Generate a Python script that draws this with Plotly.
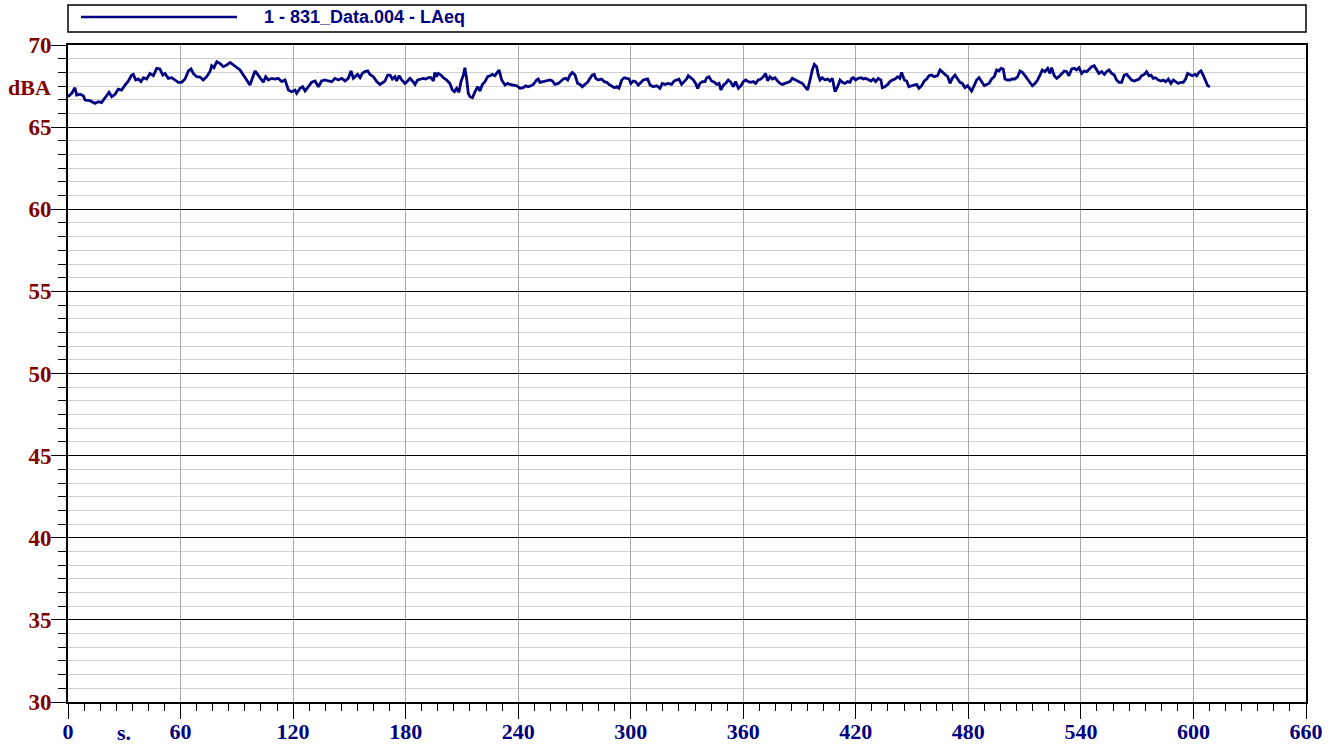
import plotly.graph_objects as go

# time axis (s) and LAeq (dBA)
t = [0, 2.0, 3.7, 4.6, 6.4, 8.2, 9.1, 11.7, 14.4, 16.2, 17.9, 19.7, 21.9, 23.3, 25.1,
     26.8, 28.6, 30.4, 32.2, 33.9, 34.8, 36.1, 37.5, 38.9, 40.2, 41.9, 43.7, 45.5, 47.3,
     49.0, 50.5, 51.7, 53.5, 55.3, 57.0, 58.8, 60.6, 62.4, 64.2, 65.6, 66.8, 68.6, 70.4,
     72.1, 73.9, 75.7, 76.6, 77.8, 79.3, 81.0, 82.8, 84.6, 86.4, 88.1, 89.9, 91.7, 93.5,
     95.2, 97.0, 98.3, 99.7, 101.1, 102.9, 104.1, 105.4, 106.8, 108.6, 110.4, 112.1,
     113.9, 115.7, 117.5, 119.2, 121.0, 121.9, 123.7, 125.1, 126.4, 128.1, 129.9, 131.7,
     133.5, 135.2, 137.0, 138.8, 140.6, 142.3, 144.1, 145.9, 147.7, 149.4, 150.9, 152.1,
     154.4, 155.7, 156.9, 158.3, 159.8, 161.0, 162.8, 164.6, 166.3, 168.1, 169.0, 170.4,
     171.7, 172.9, 174.3, 175.2, 176.5, 177.9, 179.7, 181.1, 182.3, 183.6, 185.0, 186.4,
     187.7, 189.4, 190.7, 192.1, 193.5, 194.8, 195.6, 196.5, 197.4, 198.8, 200.1, 201.9,
     203.6, 204.9, 206.0, 207.2, 208.4, 209.5, 210.8, 211.6, 212.5, 213.4, 214.3, 215.6,
     217.0, 218.4, 219.6, 220.9, 222.3, 223.7, 225.0, 226.2, 227.6, 228.5, 229.8, 231.2,
     233.0, 234.4, 235.6, 237.4, 239.2, 241.0, 242.7, 244.0, 245.4, 246.8, 248.1, 249.8,
     250.7, 251.6, 252.9, 254.3, 255.7, 257.0, 258.2, 259.6, 261.4, 262.8, 264.1, 265.3,
     266.4, 267.6, 268.9, 270.3, 271.7, 273.0, 274.2, 275.6, 277.0, 278.3, 279.5, 280.6,
     281.3, 282.7, 284.5, 285.9, 287.2, 288.4, 289.8, 291.3, 292.5, 293.7, 295.2, 296.6,
     297.8, 299.1, 300.1, 301.4, 302.6, 304.0, 305.5, 306.7, 309.0, 310.3, 312.0, 313.8,
     315.6, 316.8, 318.3, 320.0, 321.8, 323.2, 324.5, 325.7, 327.1, 328.6, 329.8, 330.7,
     332.1, 333.4, 334.6, 335.7, 336.9, 338.2, 339.6, 340.5, 341.7, 343.1, 344.6, 345.8,
     347.1, 348.1, 349.4, 350.6, 352.0, 353.4, 354.7, 355.9, 357.4, 358.8, 360.0, 361.3,
     362.7, 364.1, 365.4, 366.6, 368.0, 369.4, 370.7, 371.9, 373.0, 374.2, 375.5, 376.9,
     378.3, 379.6, 380.8, 382.2, 383.7, 384.9, 386.1, 387.6, 389.0, 390.2, 391.5, 392.9,
     394.3, 395.6, 396.8, 397.9, 399.1, 400.0, 400.9, 402.1, 403.6, 405.0, 406.2, 407.5,
     408.9, 410.3, 411.6, 412.8, 414.2, 415.6, 416.9, 417.8, 418.7, 419.9, 421.3, 422.8,
     424.0, 425.2, 426.7, 428.1, 429.3, 430.6, 432.0, 433.4, 434.1, 435.5, 437.0, 438.2,
     439.5, 440.9, 442.3, 443.5, 444.4, 445.9, 447.1, 448.3, 449.8, 451.2, 452.4, 453.7,
     455.1, 456.5, 457.8, 459.0, 460.4, 461.8, 463.6, 464.9, 466.1, 467.5, 469.0, 470.2,
     471.4, 472.9, 474.3, 475.5, 476.8, 478.2, 479.6, 480.9, 481.7, 483.2, 484.4, 485.7,
     487.1, 488.5, 489.7, 491.0, 492.4, 493.8, 495.1, 496.3, 497.4, 498.6, 499.5, 500.9,
     502.2, 503.4, 504.8, 506.3, 507.5, 508.8, 510.2, 511.6, 512.8, 514.1, 515.5, 516.9,
     518.2, 519.4, 520.8, 522.3, 523.5, 524.4, 525.8, 527.1, 528.3, 529.7, 531.1, 532.4,
     533.6, 535.1, 536.5, 537.7, 539.0, 540.4, 541.8, 543.1, 544.3, 545.7, 547.1, 548.4,
     549.6, 551.1, 552.5, 553.7, 555.0, 556.4, 557.8, 559.0, 560.3, 561.7, 563.1, 564.4,
     565.6, 567.0, 568.5, 569.7, 571.0, 572.4, 573.8, 575.0, 576.3, 577.3, 578.6, 579.8,
     581.3, 582.7, 583.9, 585.2, 586.6, 588.0, 589.3, 590.5, 591.9, 593.3, 594.6, 595.8,
     596.9, 598.1, 599.4, 600.8, 601.7, 602.9, 604.0, 605.3, 606.5, 607.6, 608.8]

laeq = [66.85, 67.06, 67.40, 66.95, 67.00, 66.91, 66.65, 66.61, 66.45, 66.55, 66.49, 66.75,
        67.12, 66.85, 67.00, 67.32, 67.26, 67.56, 67.81, 68.17, 68.21, 67.87, 67.93, 67.77,
        68.01, 67.93, 68.27, 68.13, 68.58, 68.54, 68.17, 68.27, 67.97, 68.01, 67.87, 67.73,
        67.73, 67.93, 68.42, 68.54, 68.27, 68.07, 68.05, 67.87, 68.07, 68.38, 68.74, 68.62,
        68.98, 68.88, 68.68, 68.78, 68.94, 68.78, 68.62, 68.48, 68.17, 67.87, 67.56, 67.97,
        68.42, 68.21, 67.87, 67.73, 68.07, 67.87, 67.97, 67.93, 67.97, 67.77, 67.87, 67.26,
        67.16, 67.26, 67.06, 67.36, 67.46, 67.20, 67.46, 67.73, 67.81, 67.46, 67.81, 67.87,
        67.81, 67.77, 67.97, 67.87, 67.97, 67.81, 67.97, 68.42, 67.97,
        68.21, 68.01, 68.27, 68.38, 68.42, 68.21, 68.07, 67.77, 67.60, 67.73, 67.81, 68.17,
        68.17, 67.93, 68.07, 67.81, 68.13, 67.87, 67.66, 67.81, 67.97, 67.81, 67.60, 67.87,
        67.93, 67.97, 67.93, 68.01, 68.01, 67.81, 68.33, 68.07, 68.27, 68.17, 68.01, 67.87,
        67.66, 67.26, 67.16, 67.36, 67.12, 67.77, 68.17, 68.62, 67.97, 67.06, 66.85, 66.79,
        67.16, 67.46, 67.20, 67.60, 67.77, 68.07, 68.13, 68.21, 68.13, 68.27, 68.48, 67.87,
        67.56, 67.66, 67.60, 67.56, 67.52, 67.36, 67.40, 67.52, 67.46, 67.52, 67.60, 67.87,
        67.93, 67.73, 67.77, 67.81, 67.87, 67.87, 67.81, 67.60, 67.66, 67.81, 67.93, 67.97,
        67.87, 68.17, 68.33, 68.17, 67.66, 67.60, 67.46, 67.60, 67.73, 67.97, 68.17, 68.21,
        67.97, 67.87, 67.93, 67.77, 67.73, 67.60, 67.52, 67.40, 67.46, 67.36, 67.87, 68.01,
        67.97, 67.93, 67.66, 67.81, 67.77, 67.56, 67.73, 67.87, 67.93, 67.56, 67.46, 67.52,
        67.36, 67.66, 67.60, 67.66, 67.60, 67.81, 67.87, 67.93, 67.60, 67.77, 67.93, 68.13,
        67.97, 67.87, 67.66, 67.36, 67.66, 67.77, 67.77, 68.01, 68.07, 67.81, 67.73, 67.60,
        67.66, 67.26, 67.56, 67.66, 67.87, 67.73, 67.46, 67.77, 67.36, 67.52, 67.77, 67.87,
        67.77, 67.73, 67.77, 67.66, 67.87, 67.93, 68.07, 68.27, 67.81, 68.07, 67.93, 68.01,
        67.81, 67.66, 67.60, 67.66, 67.73, 67.77, 67.97, 67.87, 67.77, 67.73, 67.66, 67.46,
        67.26, 67.87, 68.48, 68.82, 68.68, 68.17, 67.87, 68.01, 67.87, 67.93, 67.81, 67.97,
        67.16, 67.46, 67.87, 67.73, 67.66, 67.77, 67.73, 67.97, 68.01, 67.87, 67.97, 68.01,
        67.93, 67.97, 67.87, 67.81, 67.93, 67.77, 67.97, 67.87, 67.40, 67.46, 67.60, 67.77,
        67.87, 67.93, 68.07, 67.97, 68.33, 67.87, 67.81, 67.46, 67.52, 67.56, 67.60, 67.36,
        67.52, 67.81, 67.93, 68.13, 68.17, 68.07, 68.13, 68.48, 68.38, 68.21, 68.07, 67.66,
        67.97, 68.17, 67.93, 67.73, 67.66, 67.40, 67.52, 67.36, 67.20, 67.56, 67.87, 68.01,
        67.77, 67.52, 67.60, 67.66, 67.93, 68.07, 68.48, 68.42, 68.58, 68.54, 67.93, 67.87,
        67.87, 67.93, 67.93, 68.07, 68.42, 68.33, 68.13, 67.93, 67.73, 67.52, 67.66, 67.87,
        68.17, 68.48, 68.38, 68.58, 68.27, 68.62, 68.13, 67.97, 68.07, 68.27, 68.42, 68.38,
        68.13, 68.54, 68.58, 68.48, 68.62, 68.27, 68.42, 68.38, 68.54, 68.68, 68.74, 68.48,
        68.27, 68.38, 68.21, 68.38, 68.48, 68.27, 68.17, 67.87, 67.73, 67.73, 68.17, 68.21,
        68.07, 67.87, 67.81, 67.87, 67.93, 68.13, 68.21, 68.38, 68.13, 68.17, 67.97, 68.01,
        67.87, 67.81, 67.87, 67.77, 67.93, 67.66, 67.87, 67.77, 67.66, 67.73, 67.73, 67.93,
        68.27, 68.21, 68.13, 68.21, 68.13, 68.33, 68.42, 68.13, 67.77, 67.52, 67.46]

series_name = "1 - 831_Data.004 - LAeq"
x_ticks = [0, 60, 120, 180, 240, 300, 360, 420, 480, 540, 600, 660]
y_ticks = [30, 35, 40, 45, 50, 55, 60, 65, 70]

NAVY = "#000080"
DARKRED = "#800000"
SERIF = "Liberation Serif"

fig = go.Figure()
fig.add_trace(go.Scatter(
    x=t, y=laeq, mode="lines", name=series_name,
    line=dict(color=NAVY, width=2.8),
    showlegend=False,
))

fig.update_layout(
    width=1338, height=745,
    margin=dict(l=68, r=32, t=45, b=43),
    paper_bgcolor="white",
    plot_bgcolor="white",
    xaxis=dict(
        range=[0, 660], tickvals=x_ticks, automargin=False,
        showgrid=True, gridcolor="#a8a8a8", gridwidth=1,
        showline=True, linecolor="black", linewidth=2, mirror=True,
        ticks="outside", ticklen=15, tickcolor="black", tickwidth=1,
        tickfont=dict(family=SERIF, size=22, color=NAVY, weight="bold"),
        ticklabelstandoff=-6,
        zeroline=False,
        minor=dict(dtick=60 / 7, tick0=0, ticks="outside", ticklen=7,
                   tickcolor="black", showgrid=False),
    ),
    yaxis=dict(
        range=[30, 70], tickvals=y_ticks, automargin=False,
        showgrid=True, gridcolor="black", gridwidth=1,
        showline=True, linecolor="black", linewidth=2, mirror=True,
        ticks="outside", ticklen=15, tickcolor="black", tickwidth=1,
        tickfont=dict(family=SERIF, size=23, color=DARKRED, weight="bold"),
        ticklabelstandoff=-5,
        zeroline=False,
        minor=dict(dtick=5 / 6, tick0=30, ticks="outside", ticklen=8,
                   tickcolor="black", showgrid=True, gridcolor="#d0d0d0", gridwidth=1),
    ),
)

# legend box drawn by hand so it spans the whole plot width
fig.add_shape(type="rect", xref="paper", yref="paper",
              x0=0, x1=1, y0=1.0198, y1=1.0609,
              line=dict(color="black", width=1.5), fillcolor="white")
fig.add_shape(type="line", xref="paper", yref="paper",
              x0=0.0105, x1=0.1365, y0=1.0426, y1=1.0426,
              line=dict(color=NAVY, width=2.5))
fig.add_annotation(xref="paper", yref="paper", x=0.1567, y=1.0426,
                   xanchor="left", yanchor="middle", showarrow=False,
                   text=series_name,
                   font=dict(family="Liberation Sans", size=18, color=NAVY, weight="bold"))

# unit labels
fig.add_annotation(xref="paper", yref="paper", x=0, y=0.9346,
                   xanchor="right", yanchor="middle", xshift=-15, showarrow=False,
                   text="dBA",
                   font=dict(family=SERIF, size=22, color=DARKRED, weight="bold"))
fig.add_annotation(xref="x", yref="paper", x=30, y=0,
                   xanchor="center", yanchor="top", yshift=-16, showarrow=False,
                   text="s.",
                   font=dict(family=SERIF, size=22, color=NAVY, weight="bold"))

fig.write_html("out.html", config={"displayModeBar": False},
               post_script="document.body.style.margin='0';")
